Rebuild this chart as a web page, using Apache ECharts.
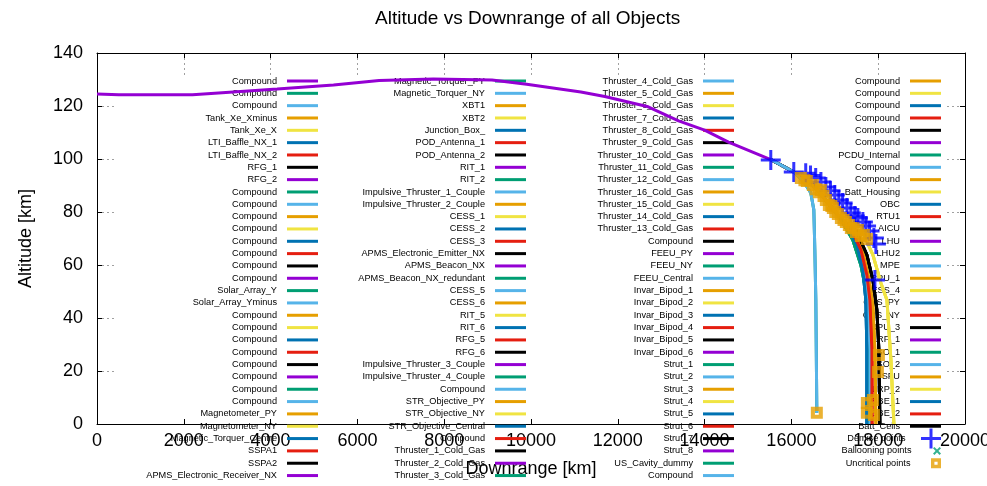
<!DOCTYPE html>
<html><head><meta charset="utf-8">
<script src="https://cdn.jsdelivr.net/npm/echarts@6/dist/echarts.min.js"></script>
<style>html,body{margin:0;padding:0;background:#fff}#c{width:987px;height:486px}</style>
</head><body><div id="c"></div>
<script>
// ---------- data ----------
const titleText = 'Altitude vs Downrange of all Objects';
const xRange = [0, 20000, 2000];
const yRange = [0, 140, 20];

const col1Names = ["Compound","Compound","Compound","Tank_Xe_Xminus","Tank_Xe_X","LTI_Baffle_NX_1","LTI_Baffle_NX_2","RFG_1","RFG_2","Compound","Compound","Compound","Compound","Compound","Compound","Compound","Compound","Solar_Array_Y","Solar_Array_Yminus","Compound","Compound","Compound","Compound","Compound","Compound","Compound","Compound","Magnetometer_PY","Magnetometer_NY","Magnetic_Torquer_Centre","SSPA1","SSPA2","APMS_Electronic_Receiver_NX"];
const col2Names = ["Magnetic_Torquer_PY","Magnetic_Torquer_NY","XBT1","XBT2","Junction_Box_","POD_Antenna_1","POD_Antenna_2","RIT_1","RIT_2","Impulsive_Thruster_1_Couple","Impulsive_Thruster_2_Couple","CESS_1","CESS_2","CESS_3","APMS_Electronic_Emitter_NX","APMS_Beacon_NX","APMS_Beacon_NX_redundant","CESS_5","CESS_6","RIT_5","RIT_6","RFG_5","RFG_6","Impulsive_Thruster_3_Couple","Impulsive_Thruster_4_Couple","Compound","STR_Objective_PY","STR_Objective_NY","STR_Objective_Central","Compound","Thruster_1_Cold_Gas","Thruster_2_Cold_Gas","Thruster_3_Cold_Gas"];
const col3Names = ["Thruster_4_Cold_Gas","Thruster_5_Cold_Gas","Thruster_6_Cold_Gas","Thruster_7_Cold_Gas","Thruster_8_Cold_Gas","Thruster_9_Cold_Gas","Thruster_10_Cold_Gas","Thruster_11_Cold_Gas","Thruster_12_Cold_Gas","Thruster_16_Cold_Gas","Thruster_15_Cold_Gas","Thruster_14_Cold_Gas","Thruster_13_Cold_Gas","Compound","FEEU_PY","FEEU_NY","FEEU_Central","Invar_Bipod_1","Invar_Bipod_2","Invar_Bipod_3","Invar_Bipod_4","Invar_Bipod_5","Invar_Bipod_6","Strut_1","Strut_2","Strut_3","Strut_4","Strut_5","Strut_6","Strut_7","Strut_8","US_Cavity_dummy","Compound"];
const col4Names = ["Compound","Compound","Compound","Compound","Compound","Compound","PCDU_Internal","Compound","Compound","Batt_Housing","OBC","RTU1","AICU","LHU","LHU2","MPE","RPU_1","CESS_4","CRS_PY","CRS_NY","RPU_3","LRP_1","ISO_1","ISO_2","SFU","LRP_2","SBE_1","SBE_2","Batt_Cells"];
const pointNames = ["Demise points","Ballooning points","Uncritical points"];

// trajectories [downrange km, altitude km]
const mainPath = [[0,124.5],[500,124.2],[2200,124.2],[2800,124.9],[4150,126.4],[5450,127.9],[6500,129.6],[7750,130.2],[9100,129.8],[9900,128.2],[11150,125.3],[11700,123.6],[12700,119.7],[13400,114.4],[14000,110.9],[14550,106.4],[15525,99.8]];
const splitPath = [[15525,99.8],[16055,95.1]];
const solarPath = [[15525,99.8],[16055,95.1],[16286,91.3],[16447,87.2],[16517,80.8],[16540,65.7],[16563,46.8],[16586,4.2]];
const arcPath = [[16055,95.1],[16217,92.8],[16494,90.2],[16794,84.5],[17070,78.9],[17370,74.0],[17670,71.3],[17739,69.4]];
const fragGreen = [[17093,78.5],[17416,69.4],[17601,60.0],[17716,50.6],[17785,35.5],[17808,0]];
const fragBlue = [[17255,76.2],[17509,67.5],[17647,58.1],[17716,46.8],[17739,27.9],[17739,0]];
const fragRed = [[17370,74.0],[17601,65.7],[17739,56.2],[17808,46.8],[17855,27.9],[17855,0]];
const fragBlack = [[17486,73.2],[17739,63.8],[17878,54.3],[17970,43.0],[18016,27.9],[18039,0]];
const fragYellow = [[17670,71.3],[17878,63.8],[18062,53.2],[18201,46.8],[18293,24.2],[18362,0]];
const fragLightblue = [[17324,74.7],[17555,66.4],[17693,57.4],[17762,46.8],[17808,27.9],[17808,0]];
const fragOrange = [[17416,73.6],[17647,64.9],[17785,55.1],[17878,44.9],[17924,27.9],[17947,0]];
const fragPurple = [[17278,74.7],[17532,65.7],[17670,56.2],[17762,46.8],[17808,24.2],[17808,4.5]];

// which trajectory each object (1-based order) follows; others follow arcPath
const routes = {1:'main',2:'split',3:'split',4:'split',5:'split',6:'split',7:'split',8:'split',9:'split',10:'split',11:'split',12:'split',13:'split',14:'split',15:'split',16:'split',17:'split',18:'solar',19:'solar',
  106:'fragGreen',109:'fragYellow',110:'fragBlue',111:'fragRed',112:'fragBlack',113:'fragPurple',114:'fragGreen',115:'fragLightblue',116:'fragOrange',117:'fragYellow',118:'fragBlue',119:'fragRed',120:'fragBlack',121:'fragPurple',122:'fragGreen',123:'fragLightblue',124:'fragOrange',125:'fragYellow',126:'fragBlue',127:'fragRed',128:'fragBlack'};

const demisePoints = [[15525,99.6],[16055,95.1],[16330,94.6],[16440,93.8],[16560,92.8],[16680,91.3],[16794,89.4],[16900,88.0],[17000,86.4],[17093,84.5],[17180,83.4],[17280,81.5],[17370,79.6],[17460,78.5],[17532,77.7],[17647,76.2],[17720,74.7],[17800,72.8],[17901,70.2],[17947,67.9],[17924,54.3]];
const ballooningPoints = [];
const uncriticalPoints = [[16217,92.8],[16300,92.0],[16355,91.7],[16494,90.2],[16560,88.6],[16632,87.5],[16678,88.3],[16740,86.0],[16794,84.5],[16863,82.6],[16920,82.3],[16955,81.5],[17010,80.0],[17070,79.2],[17140,77.7],[17200,77.0],[17255,76.2],[17324,75.1],[17370,74.0],[17430,73.9],[17486,72.5],[17532,73.2],[17601,70.9],[17670,71.3],[17739,69.8],[18016,26.0],[17993,19.6],[17878,9.1],[17739,7.9],[17739,4.2],[17901,3.4],[16586,4.2]];

// ---------- chart ----------
const palette = ['#9400d3','#009e73','#56b4e9','#e69f00','#f0e442','#0072b2','#e51e10','#000000'];
const paths = {main:mainPath, split:splitPath, solar:solarPath, arc:arcPath, fragGreen, fragBlue, fragRed, fragBlack, fragYellow, fragLightblue, fragOrange, fragPurple};
const FONT = 'Liberation Sans';
const plusPath = 'path://M8.5,0H11.5V8.5H20V11.5H11.5V20H8.5V11.5H0V8.5H8.5Z';
const crossPath = 'path://M0,1.8L1.8,0L10,8.2L8.2,10Z M8.2,0L10,1.8L1.8,10L0,8.2Z';
const ringPath = 'path://M0,0H10V10H0Z M3.4,3.4V6.6H6.6V3.4Z';

const allNames = col1Names.concat(col2Names, col3Names, col4Names);
const uid = (n, i) => n + '#' + i;
const strip = n => n.replace(/#\d+$/, '');

const series = allNames.map((n, i) => {
  const key = routes[i + 1] || 'arc';
  const c = palette[i % 8];
  return {type:'line', name:uid(n, i + 1), data:paths[key], symbol:'none', showSymbol:false,
    lineStyle:{width:3, color:c}, itemStyle:{color:c}, z:(key === 'solar' ? 4 : 3), silent:true};
});
series.push({type:'scatter', name:pointNames[0], data:demisePoints, symbol:plusPath, symbolSize:20, itemStyle:{color:'#0000ff'}, z:5, silent:true});
series.push({type:'scatter', name:pointNames[1], data:ballooningPoints, symbol:crossPath, symbolSize:8, itemStyle:{color:'#009e73'}, z:6, silent:true});
series.push({type:'scatter', name:pointNames[2], data:uncriticalPoints, symbol:ringPath, symbolSize:12, itemStyle:{color:'#e69f00'}, z:7, silent:true});

const ROW = 12.33, FIRST = 81;
const legTextStyle = {fontFamily:FONT, fontSize:9.2, lineHeight:ROW, color:'#000', padding:[0,5,0,0]};
function colLegend(names, offset, right) {
  return {orient:'vertical', align:'right', right:right, top:FIRST - ROW/2, padding:0, itemGap:0,
    itemWidth:31, itemHeight:3, icon:'rect', selectedMode:false, z:2, formatter:strip,
    textStyle:legTextStyle, data:names.map((n, k) => uid(n, offset + k + 1))};
}
function pointLegend(name, icon, h, row) {
  const c = FIRST + row * ROW;
  const top = h >= ROW ? c - h / 2 : c - ROW / 2;
  return {orient:'vertical', align:'right', right:46, top:top, padding:0, itemGap:0,
    itemWidth:31, itemHeight:h, selectedMode:false, z:2, textStyle:legTextStyle,
    data:[{name:name, icon:icon}]};
}
const legends = [
  colLegend(col1Names, 0, 669),
  colLegend(col2Names, 33, 461),
  colLegend(col3Names, 66, 253),
  colLegend(col4Names, 99, 46),
  pointLegend(pointNames[0], plusPath, 20, 29),
  pointLegend(pointNames[1], crossPath, 8, 30),
  pointLegend(pointNames[2], ringPath, 10, 31)
];

const gridLine = {show:true, lineStyle:{color:'#a0a0a0', type:[2,3], width:1}};
const tick = {show:true, inside:true, length:5, lineStyle:{color:'#000', width:1}};
const axLine = {show:true, onZero:false, lineStyle:{color:'#000', width:1}};
const plain = v => String(v);

const option = {
  animation:false,
  backgroundColor:'#fff',
  textStyle:{fontFamily:FONT},
  title:{text:titleText, left:375, top:9, padding:0, textStyle:{fontFamily:FONT, fontSize:19, fontWeight:'normal', color:'#000'}},
  grid:{left:97, right:22, top:53, bottom:62, containLabel:false, outerBoundsMode:'none'},
  legend:legends,
  graphic:[{type:'rect', shape:{x:115, y:75, width:832, height:344}, style:{fill:'#fff'}, z:1, silent:true}],
  xAxis:[
    {type:'value', min:xRange[0], max:xRange[1], interval:xRange[2], position:'bottom',
     axisLine:axLine, axisTick:tick, splitLine:gridLine,
     axisLabel:{fontSize:18, color:'#000', margin:8, fontFamily:FONT, formatter:plain},
     name:'Downrange [km]', nameLocation:'middle', nameGap:36, nameTextStyle:{fontSize:18, color:'#000', fontFamily:FONT}},
    {type:'value', min:xRange[0], max:xRange[1], interval:xRange[2], position:'top',
     axisLine:axLine, axisTick:tick, splitLine:{show:false}, axisLabel:{show:false}}
  ],
  yAxis:[
    {type:'value', min:yRange[0], max:yRange[1], interval:yRange[2], position:'left',
     axisLine:axLine, axisTick:tick, splitLine:gridLine,
     axisLabel:{fontSize:18, color:'#000', margin:14, fontFamily:FONT, formatter:plain},
     name:'Altitude [km]', nameLocation:'middle', nameGap:62, nameTextStyle:{fontSize:18, color:'#000', fontFamily:FONT}},
    {type:'value', min:yRange[0], max:yRange[1], interval:yRange[2], position:'right',
     axisLine:axLine, axisTick:tick, splitLine:{show:false}, axisLabel:{show:false}}
  ],
  series:series
};
const chart = echarts.init(document.getElementById('c'), null, {renderer:'canvas'});
chart.setOption(option);
</script></body></html>
